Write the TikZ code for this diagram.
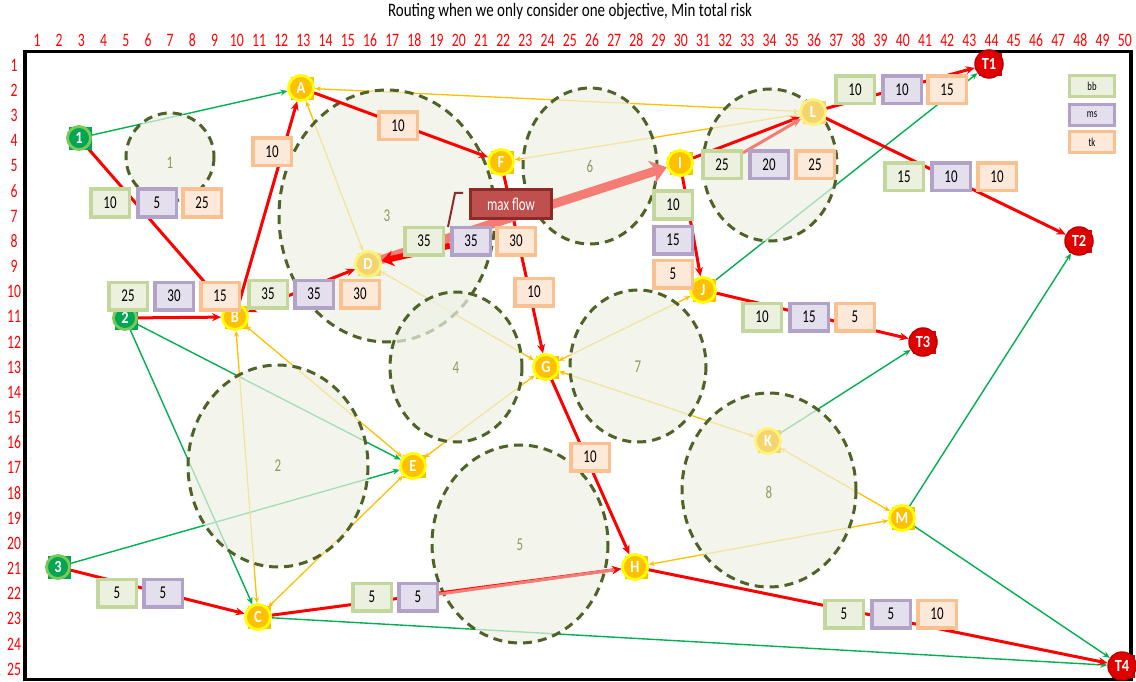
\documentclass[tikz,border=0pt]{standalone}
\usepackage{fontspec}
\setmainfont{Carlito}
\usetikzlibrary{arrows.meta}
\definecolor{gline}{HTML}{00B050}
\definecolor{yline}{HTML}{FFC000}
\definecolor{rline}{HTML}{FF0000}
\definecolor{salm}{HTML}{F47C74}
\definecolor{zfill}{HTML}{EEF2E4}
\definecolor{zdash}{HTML}{4F6228}
\definecolor{zlab}{HTML}{8C9A5A}
\definecolor{bbB}{HTML}{C3D69B}\definecolor{bbF}{HTML}{EBF1DE}
\definecolor{msB}{HTML}{B3A2C7}\definecolor{msF}{HTML}{E4DFEC}
\definecolor{tkB}{HTML}{FAC090}\definecolor{tkF}{HTML}{FDE9D9}
\definecolor{ny}{HTML}{FFC000}
\definecolor{nyr}{HTML}{FFFF00}
\definecolor{nfade}{HTML}{F3D46E}
\definecolor{nfr}{HTML}{FFF27A}
\definecolor{ng}{HTML}{00A651}
\definecolor{ngr}{HTML}{7CC85A}
\definecolor{nr}{HTML}{E00000}
\definecolor{nrr}{HTML}{C00000}
\definecolor{mfF}{HTML}{C0504D}
\definecolor{mfB}{HTML}{8C2A28}
\newcommand\cz[1]{\scalebox{0.72}[1]{#1}}
\newcommand\cn[1]{\scalebox{0.85}[1]{#1}}
\newcommand\mknode[6]{\fill[#5] ({#2-10},{#3-11}) rectangle ({#2+13},{#3+12});\node[#4] (#1) at (#2,#3) {\cn{#6}};}
\pgfdeclarelayer{bgw}\pgfdeclarelayer{thin}\pgfdeclarelayer{zones}\pgfdeclarelayer{redl}
\pgfsetlayers{bgw,thin,zones,redl,main}
\tikzset{
 ynd/.style={circle, fill=ny, draw=nyr, line width=2.8pt, minimum size=25pt, inner sep=0pt, text=white, font=\fontsize{17}{17}\selectfont\bfseries},
 yfd/.style={ynd, fill=nfade, draw=nfr},
 gnd/.style={ynd, fill=ng, draw=ngr, minimum size=23pt},
 tnd/.style={ynd, fill=nr, draw=nrr, line width=1.5pt, minimum size=28pt, font=\fontsize{17}{17}\selectfont\bfseries},
 bx/.style={rectangle, line width=3.5pt, minimum width=38.5pt, minimum height=27.5pt, inner sep=0pt, font=\fontsize{18}{18}\selectfont},
 bb/.style={bx, draw=bbB, fill=bbF},
 ms/.style={bx, draw=msB, fill=msF},
 tk/.style={bx, draw=tkB, fill=tkF},
 gridnum/.style={text=rline, font=\fontsize{19}{19}\selectfont, inner sep=0pt},
 zlabel/.style={text=zlab, font=\fontsize{18}{18}\selectfont, inner sep=0pt},
 gedge/.style={draw=gline, line width=1.4pt, -{Stealth[length=7pt,width=6pt]}},
 yedge/.style={draw=yline, line width=1.3pt, {Stealth[length=6pt,width=5pt]}-{Stealth[length=6pt,width=5pt]}},
 redge/.style={draw=rline, line width=3pt, -{Stealth[length=9pt,width=8pt]}},
 zone/.style={fill=zfill, fill opacity=0.7, draw=zdash, line width=3pt, dash pattern=on 9pt off 6pt},
 legbox/.style={minimum width=45pt, minimum height=21pt, font=\fontsize{12}{12}\selectfont},
}
\begin{document}
\begin{tikzpicture}[x=1pt,y=-1pt]
\useasboundingbox (0,0) rectangle (1136,682);
\begin{pgfonlayer}{bgw}
\fill[white] (0,0) rectangle (1136,682);
\end{pgfonlayer}
% title and grid
\node[font=\fontsize{19}{21}\selectfont, inner sep=0pt] (title) at (570,12) {\scalebox{0.79}[1]{Routing when we only consider one objective, Min total risk}};
\foreach \i in {1,...,50} \node[gridnum] (c\i) at ({37+(\i-1)*22.2},40) {\cz{\i}};
\foreach \j in {1,...,25} \node[gridnum] (r\j) at (14,{65+(\j-1)*25.17}) {\cz{\j}};
\draw[line width=3.5pt] (25,51.5) rectangle (1131,679.5);
% zones
\begin{pgfonlayer}{zones}
\draw[zone] (170,157) ellipse [x radius=44, y radius=44];
\draw[zone] (278,466) ellipse [x radius=90, y radius=101];
\draw[zone] (387,216) ellipse [x radius=108, y radius=126];
\draw[zone] (456,367) ellipse [x radius=66, y radius=75];
\draw[zone] (520,544) ellipse [x radius=88, y radius=99];
\draw[zone] (590,166) ellipse [x radius=67, y radius=78];
\draw[zone] (638,366) ellipse [x radius=68, y radius=76];
\draw[zone] (769,490) ellipse [x radius=87, y radius=97];
\draw[zone] (770,165) ellipse [x radius=67, y radius=76];
\node[zlabel] (z1) at (170,163) {\cz{1}};
\node[zlabel] (z2) at (278,466) {\cz{2}};
\node[zlabel] (z3) at (387,216) {\cz{3}};
\node[zlabel] (z4) at (456,368) {\cz{4}};
\node[zlabel] (z5) at (520,545) {\cz{5}};
\node[zlabel] (z6) at (590,166) {\cz{6}};
\node[zlabel] (z7) at (638,367) {\cz{7}};
\node[zlabel] (z8) at (769,492) {\cz{8}};
\end{pgfonlayer}
% nodes
\mknode{N1}{79}{138}{gnd}{ng}{1}
\mknode{N2}{125}{318}{gnd}{ng}{2}
\mknode{N3}{58}{567}{gnd}{ng}{3}
\mknode{A}{301}{88}{ynd}{ny}{A}
\mknode{B}{235}{317}{ynd}{ny}{B}
\mknode{C}{258}{617}{ynd}{ny}{C}
\mknode{D}{368}{264}{yfd}{nfade}{D}
\mknode{E}{413}{466}{ynd}{ny}{E}
\mknode{F}{501}{162}{ynd}{ny}{F}
\mknode{G}{546}{367}{ynd}{ny}{G}
\mknode{H}{635}{567}{ynd}{ny}{H}
\mknode{I}{680}{163}{ynd}{ny}{I}
\mknode{J}{703}{290}{ynd}{ny}{J}
\mknode{K}{768}{441}{yfd}{nfade}{K}
\mknode{L}{813}{112}{yfd}{nfade}{L}
\mknode{M}{902}{518}{ynd}{ny}{M}
\mknode{T1}{989}{64}{tnd}{nr}{T1}
\mknode{T2}{1079}{241}{tnd}{nr}{T2}
\mknode{T3}{923}{342}{tnd}{nr}{T3}
\mknode{T4}{1122}{666}{tnd}{nr}{T4}
% value boxes
\node[bb] (a1) at (110,203) {\cz{10}};
\node[ms] (a2) at (157,203) {\cz{5}};
\node[tk] (a3) at (202,203) {\cz{25}};
\node[tk] (ba) at (272,152) {\cz{10}};
\node[tk] (af) at (398,126) {\cz{10}};
\node[bb] (b1) at (128,296) {\cz{25}};
\node[ms] (b2) at (174,296) {\cz{30}};
\node[tk] (b3) at (220,296) {\cz{15}};
\node[bb] (d1) at (268,294) {\cz{35}};
\node[ms] (d2) at (314,294) {\cz{35}};
\node[tk] (d3) at (360,294) {\cz{30}};
\node[bb] (i1) at (424,241) {\cz{35}};
\node[ms] (i2) at (471,241) {\cz{35}};
\node[tk] (i3) at (516,241) {\cz{30}};
\node[tk] (fg) at (534,292) {\cz{10}};
\node[bb] (j1) at (673,205) {\cz{10}};
\node[ms] (j2) at (673,240) {\cz{15}};
\node[tk] (j3) at (673,274) {\cz{5}};
\node[bb] (l1) at (722,165) {\cz{25}};
\node[ms] (l2) at (769,165) {\cz{20}};
\node[tk] (l3) at (815,165) {\cz{25}};
\node[bb] (t11) at (855,90) {\cz{10}};
\node[ms] (t12) at (902,90) {\cz{10}};
\node[tk] (t13) at (947,90) {\cz{15}};
\node[bb] (t21) at (904,177) {\cz{15}};
\node[ms] (t22) at (951,177) {\cz{10}};
\node[tk] (t23) at (997,177) {\cz{10}};
\node[bb] (t31) at (762,317) {\cz{10}};
\node[ms] (t32) at (809,317) {\cz{15}};
\node[tk] (t33) at (855,317) {\cz{5}};
\node[tk] (gh) at (590,457) {\cz{10}};
\node[bb] (t41) at (844,614) {\cz{5}};
\node[ms] (t42) at (891,614) {\cz{5}};
\node[tk] (t43) at (937,614) {\cz{10}};
\node[bb] (c1) at (117,593) {\cz{5}};
\node[ms] (c2) at (163,593) {\cz{5}};
\node[bb] (h1) at (372,597) {\cz{5}};
\node[ms] (h2) at (418,597) {\cz{5}};
% max flow callout
\node[rectangle, fill=mfF, draw=mfB, line width=2.5pt, minimum width=81pt, minimum height=29pt, inner sep=0pt, text=white, font=\fontsize{18}{18}\selectfont] (mf) at (511,204) {\cz{max flow}};
\coordinate (ld1) at (463,193);
\coordinate (ld2) at (455,193);
\coordinate (ld3) at (448,227);
\draw[mfB, line width=2pt] (ld1) -- (ld2) -- (ld3);
% legend
\node[bb, legbox] (lbb) at (1092,86) {\cz{bb}};
\node[ms, legbox] (lms) at (1092,115) {\cz{ms}};
\node[tk, legbox] (ltk) at (1092,142) {\cz{tk}};
% thin edges
\begin{pgfonlayer}{thin}
\draw[gedge] (N1) -- (A);
\draw[gedge] (N2) -- (C);
\draw[gedge] (N2) -- (E);
\draw[gedge] (N3) -- (E);
\draw[gedge] (C) -- (T4);
\draw[gedge] (M) -- (T2);
\draw[gedge] (M) -- (T4);
\draw[gedge] (K) -- (T3);
\draw[gedge] (J) -- (T1);
\draw[yedge] (A) -- (L);
\draw[yedge] (F) -- (L);
\draw[yedge] (A) -- (D);
\draw[yedge] (B) -- (C);
\draw[yedge] (B) -- (E);
\draw[yedge] (C) -- (E);
\draw[yedge] (E) -- (G);
\draw[yedge] (D) -- (G);
\draw[yedge] (G) -- (J);
\draw[yedge] (G) -- (K);
\draw[yedge] (K) -- (M);
\draw[yedge] (H) -- (M);
\end{pgfonlayer}
% red edges
\begin{pgfonlayer}{redl}
\draw[redge] (N1) -- (B);
\draw[redge] (N2) -- (B);
\draw[redge] (B) -- (A);
\draw[redge, {Stealth[length=9pt,width=8pt]}-{Stealth[length=9pt,width=8pt]}] (B) -- (D);
\draw[redge] (A) -- (F);
\draw[redge] (F) -- (G);
\draw[redge] (G) -- (H);
\draw[redge] (I) -- (J);
\draw[redge] (J) -- (T3);
\draw[redge] (L) -- (T1);
\draw[redge] (L) -- (T2);
\draw[redge] (H) -- (T4);
\draw[redge] (N3) -- (C);
\draw[redge] (C) -- (H);
\draw[draw=salm, line width=3pt, -{Stealth[length=9pt,width=8pt,color=rline]}] (h2) -- (H);
\draw[redge] (I) -- (L);
\draw[draw=salm, line width=3pt, -{Stealth[length=9pt,width=8pt]}] (l1) -- (L);
\draw[draw=salm, line width=9pt, -{Stealth[length=16pt,width=24pt]}] (D) -- (I);
\draw[draw=rline, line width=6pt, -{Stealth[length=12pt,width=16pt]}] (i2) -- (D);
\end{pgfonlayer}
\end{tikzpicture}
\end{document}
